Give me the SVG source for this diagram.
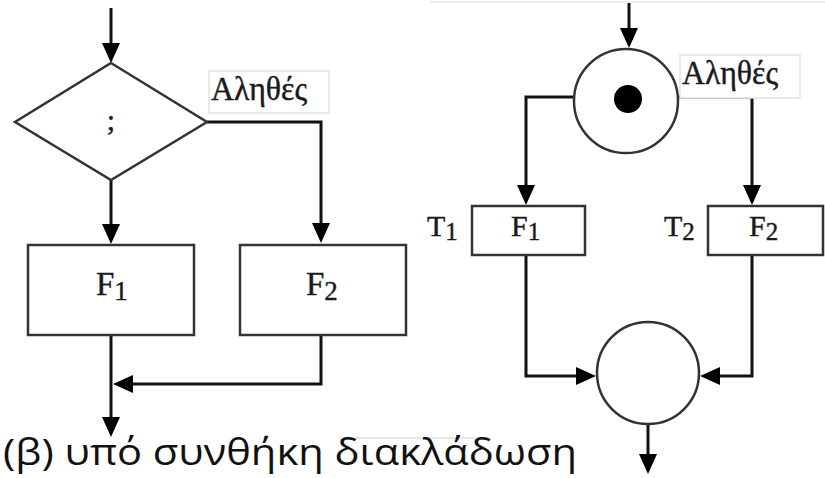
<svg xmlns="http://www.w3.org/2000/svg" width="825" height="478" viewBox="0 0 825 478">
<defs>
<marker id="ah" markerUnits="userSpaceOnUse" markerWidth="20" markerHeight="18" refX="0" refY="9" orient="auto">
<path d="M0,0 L20,9 L0,18 z" fill="#000"/>
</marker>
<style>
.conn{fill:none;stroke:#111;stroke-width:3;marker-end:url(#ah)}
.shape{fill:#fff;stroke:#333;stroke-width:2.5}
.lbox{fill:#fff;stroke:#e2e2e2;stroke-width:1.5}
.serif{font-family:"Liberation Serif","Times New Roman",serif;fill:#1a1a1a;stroke:#1a1a1a;stroke-width:0.4}
.cap{font-family:"Open Sans","Noto Sans",sans-serif;fill:#111;font-size:36px}
</style>
</defs>
<rect width="825" height="478" fill="#fff"/>
<line x1="430" y1="2" x2="825" y2="2" stroke="#eeeeee" stroke-width="2"/>
<line x1="355" y1="438" x2="475" y2="438" stroke="#e6e6e6" stroke-width="2"/>

<g id="connectors">
<path class="conn" d="M111,8 V43"/>
<path class="conn" d="M111,180 V224"/>
<path class="conn" d="M207,122 H321 V223"/>
<path class="conn" d="M111,335 V417"/>
<path class="conn" d="M321,335 V384 H133"/>
<path class="conn" d="M629,3 V28"/>
<path class="conn" d="M574,97 H526 V185"/>
<path class="conn" d="M678,97 H752 V185"/>
<path class="conn" d="M526,255 V376 H576"/>
<path class="conn" d="M752,255 V376 H720"/>
<path class="conn" d="M648,425 V454"/>
</g>

<g id="decision">
<polygon class="shape" points="111,63 207,122 111,180 15,122"/>
<text class="serif" x="111" y="130" font-size="30" text-anchor="middle">;</text>
</g>
<g id="label-true-left">
<rect class="lbox" x="209" y="71" width="120" height="42"/>
<text class="serif" x="211" y="100" font-size="33" textLength="96" lengthAdjust="spacingAndGlyphs">Αληθές</text>
</g>
<g id="F1-left">
<rect class="shape" x="28" y="245" width="166" height="90"/>
<text class="serif" x="96" y="295" font-size="33">F<tspan font-size="27" dy="5">1</tspan></text>
</g>
<g id="F2-left">
<rect class="shape" x="240" y="245" width="166" height="90"/>
<text class="serif" x="306" y="295" font-size="33">F<tspan font-size="27" dy="5">2</tspan></text>
</g>

<g id="place-top">
<circle class="shape" cx="626" cy="101" r="52"/>
<circle cx="628" cy="99" r="14" fill="#000"/>
</g>
<g id="label-true-right">
<rect class="lbox" x="680" y="55" width="120" height="43"/>
<text class="serif" x="682" y="84" font-size="33" textLength="96" lengthAdjust="spacingAndGlyphs">Αληθές</text>
</g>
<g id="T1">
<rect class="shape" x="472" y="206" width="113" height="49"/>
<text class="serif" x="511" y="236" font-size="30">F<tspan font-size="25" dy="4">1</tspan></text>
<text class="serif" x="427" y="236" font-size="30">T<tspan font-size="25" dy="4">1</tspan></text>
</g>
<g id="T2">
<rect class="shape" x="708" y="206" width="115" height="49"/>
<text class="serif" x="749" y="236" font-size="30">F<tspan font-size="25" dy="4">2</tspan></text>
<text class="serif" x="664" y="236" font-size="30">T<tspan font-size="25" dy="4">2</tspan></text>
</g>
<g id="place-bottom">
<circle class="shape" cx="648" cy="373" r="51"/>
</g>

<text class="cap" x="3" y="465" textLength="574" lengthAdjust="spacingAndGlyphs">(β) υπό συνθήκη διακλάδωση</text>
</svg>
